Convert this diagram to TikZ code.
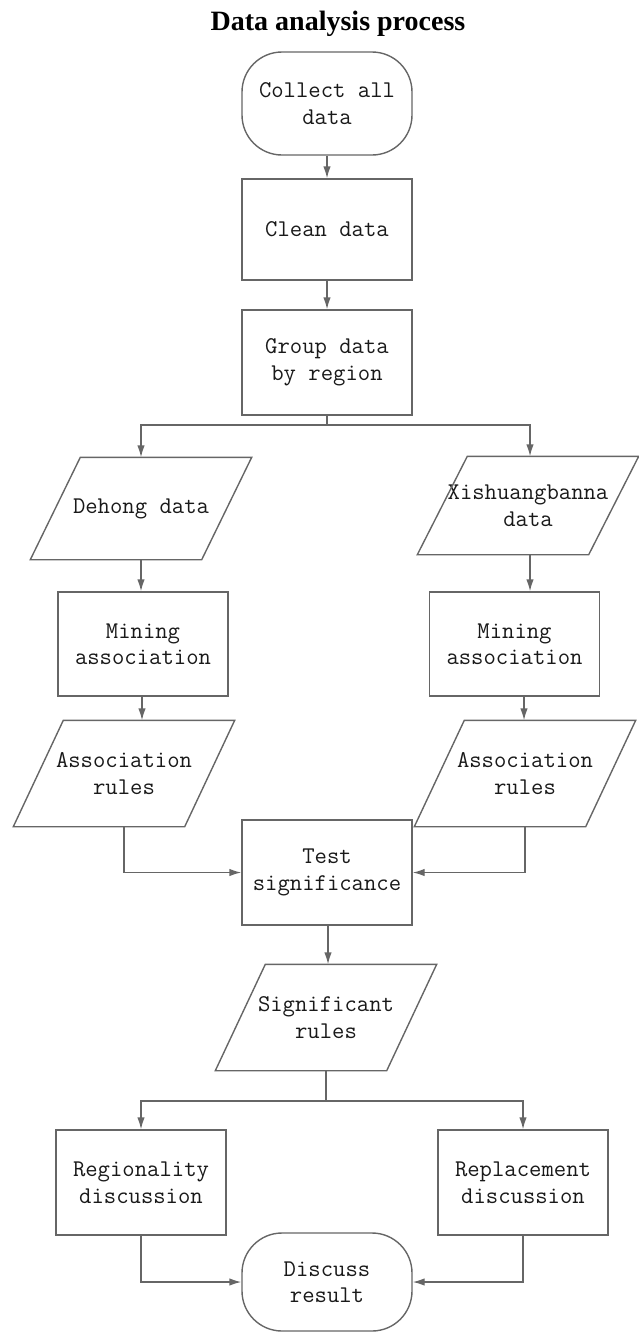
\documentclass[tikz,border=0pt]{standalone}
\usepackage{fontspec}
\setmainfont{Liberation Serif}
\usepackage{tikz}
\usetikzlibrary{arrows.meta}

\definecolor{linegray}{HTML}{666666}

\begin{document}
\begin{tikzpicture}[x=1pt,y=-1pt,
  box/.style={draw=linegray,line width=1.4pt,minimum width=170pt,minimum height=103pt,inner sep=0pt,align=center,font=\ttfamily\fontsize{24}{26.5}\selectfont,text=black!90},
  endbox/.style={box,rounded corners=40pt},
  databox/.style={box,draw=none},
  link/.style={draw=linegray,line width=1.4pt},
  arr/.style={link,-{Latex[length=12pt,width=7.5pt]}}]
\newcommand{\Slant}{25pt}
\useasboundingbox (0,0) rectangle (638,1334);

\node[font=\bfseries\fontsize{28}{30}\selectfont] (title) at (338,24) {Data analysis process};

\node[endbox] (collect) at (327,103.5) {Collect all\\data};
\node[box,minimum height=101pt] (clean) at (327,229.5) {Clean data};
\node[box,minimum height=105pt] (group) at (327,362.5) {Group data\\by region};
\node[databox,minimum height=101pt] (dehong) at (141,508.5) {Dehong data};
\node[databox,minimum height=97pt] (xish) at (528,505.5) {Xishuangbanna\\data};
\node[box,minimum height=104pt] (mine1) at (143,644) {Mining\\association};
\node[box,minimum height=104pt] (mine2) at (514.5,644) {Mining\\association};
\node[databox,minimum height=105pt] (assoc1) at (124,773.5) {Association\\rules};
\node[databox,minimum height=105pt] (assoc2) at (525,773.5) {Association\\rules};
\node[box,minimum height=105pt] (test) at (327,872.5) {Test\\significance};
\node[databox,minimum height=105pt] (sig) at (326,1017.5) {Significant\\rules};
\node[box,minimum height=105pt] (reg) at (141,1182.5) {Regionality\\discussion};
\node[box,minimum height=105pt] (rep) at (523,1182.5) {Replacement\\discussion};
\node[endbox,minimum height=98pt] (discuss) at (327,1282) {Discuss\\result};

% slanted data boxes
\foreach \n in {dehong,xish,assoc1,assoc2,sig}
  \draw[link] ([xshift=\Slant]\n.north west) -- ([xshift=\Slant]\n.north east) -- ([xshift=-\Slant]\n.south east) -- ([xshift=-\Slant]\n.south west) -- cycle;

\coordinate (split1) at (327,425);
\coordinate (split2) at (326,1101);

\draw[arr] (collect) -- (clean);
\draw[arr] (clean) -- (group);
\draw[link] (group.south) -- (split1);% branch by region
\draw[arr] (split1) -| (dehong.north);
\draw[arr] (split1) -| ([xshift=2pt]xish.north);
\draw[arr] (dehong.south) -- (dehong.south |- mine1.north);
\draw[arr] ([xshift=2pt]xish.south) -- ([xshift=2pt]xish.south |- mine2.north);
\draw[arr] ([xshift=-1pt]mine1.south) -- ([xshift=-1pt]mine1.south |- assoc1.north);
\draw[arr] ([xshift=-1pt]assoc2.north |- mine2.south) -- ([xshift=-1pt]assoc2.north);
\draw[arr] (assoc1.south) |- (test.west);
\draw[arr] (assoc2.south) |- (test.east);
\draw[arr] ([xshift=1pt]test.south) -- ([xshift=1pt]test.south |- sig.north);
\draw[link] (sig.south) -- (split2);% branch to discussions
\draw[arr] (split2) -| (reg.north);
\draw[arr] (split2) -| (rep.north);
\draw[arr] (reg.south) |- (discuss.west);
\draw[arr] (rep.south) |- (discuss.east);
\end{tikzpicture}
\end{document}
